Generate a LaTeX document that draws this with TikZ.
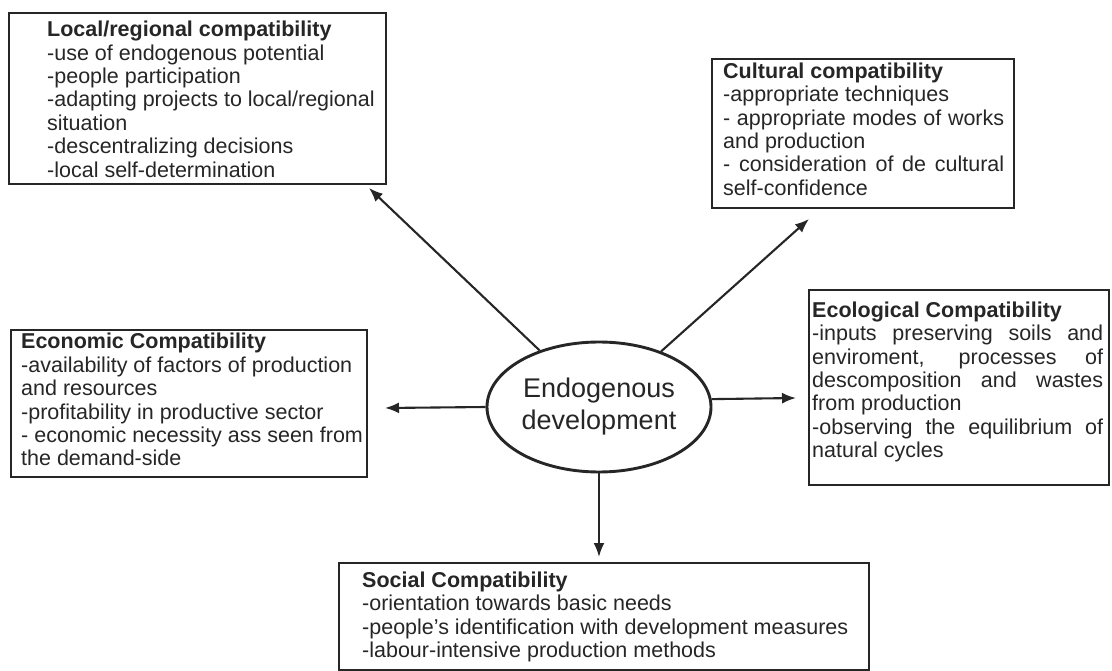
\documentclass[tikz,border=0pt]{standalone}
\usepackage{fontspec}
\setmainfont{Liberation Sans}
\usetikzlibrary{shapes.geometric,arrows.meta}
\definecolor{ink}{HTML}{262626}
\begin{document}
\begin{tikzpicture}[x=1pt,y=-1pt,
  box/.style={draw=ink, line width=2.1pt, inner sep=0pt, anchor=north west},
  txt/.style={inner sep=0pt, anchor=north west, align=left, text=ink,
    font=\fontsize{21.5}{23.4}\selectfont},
  link/.style={draw=ink, line width=2.1pt, -{Latex[length=14pt,width=11pt]}}]
\fill[white] (0,0) rectangle (1112,671);
\useasboundingbox (0,0) rectangle (1112,671);

% boxes
\node[box, minimum width=377, minimum height=171] (localbox) at (8,12) {};
\node[box, minimum width=302, minimum height=149] (culturebox) at (711,58) {};
\node[box, minimum width=356, minimum height=147] (econbox) at (10,329) {};
\node[box, minimum width=300, minimum height=195] (ecobox) at (808,289) {};
\node[box, minimum width=530, minimum height=107] (socbox) at (338,562) {};

% texts
\node[txt] (localtxt) at (47,21) {\textbf{Local/regional compatibility}\\
-use of endogenous potential\\
-people participation\\
-adapting projects to local/regional\\
situation\\
-descentralizing decisions\\
-local self-determination};

\node[txt] (culturetxt) at (723,62.6) {\textbf{Cultural compatibility}\\
-appropriate techniques\\
\makebox[281pt][s]{- appropriate modes of works}\\
and production\\
\makebox[281pt][s]{- consideration of de cultural}\\
self-confidence};

\node[txt] (econtxt) at (21,333.2) {\textbf{Economic Compatibility}\\
-availability of factors of production\\
and resources\\
-profitability in productive sector\\
- economic necessity ass seen from\\
the demand-side};

\node[txt] (ecotxt) at (812,301.6) {\textbf{Ecological Compatibility}\\
\makebox[291pt][s]{-inputs preserving soils and}\\
\makebox[291pt][s]{enviroment, processes of}\\
\makebox[291pt][s]{descomposition and wastes}\\
from production\\
\makebox[291pt][s]{-observing the equilibrium of}\\
natural cycles};

\node[txt] (soctxt) at (362,571.6) {\textbf{Social Compatibility}\\
-orientation towards basic needs\\
-people's identification with development measures\\
-labour-intensive production methods};

% centre
\node[ellipse, draw=ink, line width=2.9pt, minimum width=224, minimum height=130,
  inner sep=0pt, align=center, text=ink, font=\fontsize{27}{32}\selectfont]
  (E) at (599,407) {\raisebox{3pt}{Endogenous}\\\raisebox{3pt}{development}};

% arrow tips
\coordinate (tL) at (369,188);
\coordinate (tC) at (809,219);
\coordinate (tW) at (385,408);
\coordinate (tR) at (796,398);
\coordinate (tS) at (599,557);

\draw[link] (E) -- (tL);
\draw[link] (E) -- (tC);
\draw[link] (E.west) -- (tW);
\draw[link] (E.4.6) -- (tR);
\draw[link] (E.south) -- (tS);
\end{tikzpicture}
\end{document}
